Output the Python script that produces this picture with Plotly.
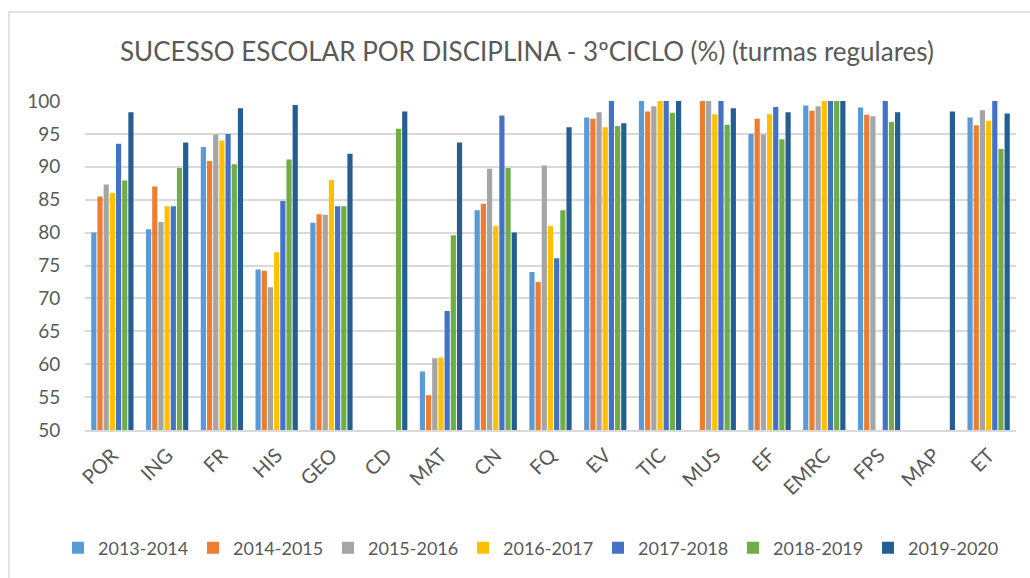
import plotly.graph_objects as go

# Disciplines (x categories)
disciplinas = ["POR", "ING", "FR", "HIS", "GEO", "CD", "MAT", "CN", "FQ",
               "EV", "TIC", "MUS", "EF", "EMRC", "FPS", "MAP", "ET"]

anos = ["2013-2014", "2014-2015", "2015-2016", "2016-2017",
        "2017-2018", "2018-2019", "2019-2020"]

# Success rate (%) per school year, one value per discipline (None = no data)
s_2013_2014 = [80.0, 80.5, 93.0, 74.4, 81.5, None, 58.9, 83.4, 74.0,
               97.5, 100.0, None, 95.0, 99.3, 99.0, None, 97.5]
s_2014_2015 = [85.5, 87.0, 90.9, 74.2, 82.8, None, 55.3, 84.4, 72.5,
               97.3, 98.4, 100.0, 97.3, 98.5, 97.9, None, 96.3]
s_2015_2016 = [87.3, 81.6, 94.9, 71.7, 82.7, None, 60.9, 89.7, 90.2,
               98.3, 99.2, 100.0, 94.9, 99.2, 97.7, None, 98.6]
s_2016_2017 = [86.0, 84.0, 94.0, 77.0, 88.0, None, 61.0, 81.0, 81.0,
               96.0, 100.0, 98.0, 98.0, 100.0, None, None, 97.0]
s_2017_2018 = [93.5, 84.0, 95.0, 84.8, 84.0, None, 68.1, 97.8, 76.1,
               100.0, 100.0, 100.0, 99.1, 100.0, 100.0, None, 100.0]
s_2018_2019 = [87.9, 89.8, 90.4, 91.1, 84.0, 95.8, 79.6, 89.8, 83.4,
               96.2, 98.2, 96.4, 94.2, 100.0, 96.8, None, 92.7]
s_2019_2020 = [98.3, 93.7, 98.9, 99.4, 92.0, 98.4, 93.7, 80.0, 96.0,
               96.6, 100.0, 98.9, 98.3, 100.0, 98.3, 98.4, 98.1]

series = [s_2013_2014, s_2014_2015, s_2015_2016, s_2016_2017,
          s_2017_2018, s_2018_2019, s_2019_2020]

cores = ["#5B9BD5", "#ED7D31", "#A5A5A5", "#FFC000",
         "#4472C4", "#70AD47", "#255E91"]

FONT = "Lato"
TXT = "#595959"
GRID = "#D9D9D9"

fig = go.Figure()
for ano, vals, cor in zip(anos, series, cores):
    fig.add_trace(go.Bar(
        name=ano, x=disciplinas, y=vals,
        marker=dict(color=cor, line=dict(width=0)),
    ))

W, H = 1030, 578
L, R, T, B = 85, 14, 101, 148
pw, ph = W - L - R, H - T - B


def px_x(p):
    return (p - L) / pw


def px_y(p):
    return (H - B - p) / ph


fig.update_layout(
    width=W, height=H,
    margin=dict(l=L, r=R, t=T, b=B, autoexpand=False),
    paper_bgcolor="white", plot_bgcolor="white",
    barmode="group", bargap=0.21, bargroupgap=0.16,
    font=dict(family=FONT, color=TXT, size=19),
    title=dict(
        text="SUCESSO ESCOLAR POR DISCIPLINA - 3ºCICLO (%) (turmas regulares)",
        x=527 / W, xanchor="center", xref="container",
        y=1 - 52 / H, yanchor="middle", yref="container",
        font=dict(family=FONT, size=26, color=TXT),
    ),
    xaxis=dict(
        tickangle=-45, tickfont=dict(size=20, color=TXT),
        showline=True, linecolor=GRID, linewidth=1.5,
        showgrid=False, ticks="outside", ticklen=4, tickcolor="rgba(0,0,0,0)",
    ),
    yaxis=dict(
        range=[50, 100], dtick=5, tick0=50,
        showgrid=True, gridcolor=GRID, gridwidth=1.5,
        zeroline=False, showline=False,
        ticks="outside", ticklen=20, tickcolor="rgba(0,0,0,0)",
        tickfont=dict(size=19, color=TXT),
    ),
    legend=dict(
        orientation="h", xanchor="left", xref="paper", x=px_x(58),
        yanchor="middle", yref="paper", y=px_y(548),
        font=dict(size=18, color=TXT),
        entrywidth=90, entrywidthmode="pixels",
        traceorder="normal",
    ),
    shapes=[dict(
        type="rect", xref="paper", yref="paper",
        x0=px_x(9), x1=px_x(1040), y0=px_y(590), y1=px_y(12),
        line=dict(color=GRID, width=1.5), fillcolor="rgba(0,0,0,0)",
        layer="below",
    )],
)

fig.write_html("out.html")
